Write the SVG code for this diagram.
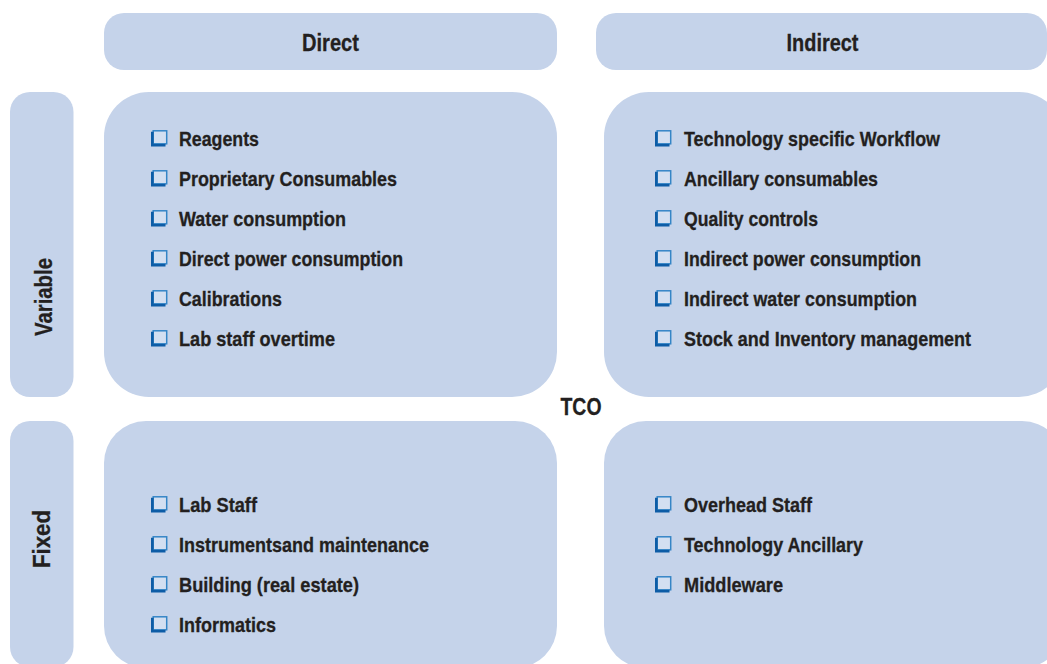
<svg xmlns="http://www.w3.org/2000/svg" xmlns:xlink="http://www.w3.org/1999/xlink" width="1047" height="664" viewBox="0 0 1047 664">
  <style>
    .panel { fill: #c5d3ea; }
    .head { font-family: "Liberation Sans", Arial, sans-serif; font-weight: bold; font-size: 24px; fill: #231f20; stroke: #231f20; stroke-width: 0.3; }
    .item { font-family: "Liberation Sans", Arial, sans-serif; font-weight: bold; font-size: 20.5px; fill: #231f20; stroke: #231f20; stroke-width: 0.3; }
  </style>
  <defs>
    <!-- shadowed checkbox bullet -->
    <g id="cb">
      <rect x="2.2" y="0.8" width="13.5" height="13" fill="#d3dff1" stroke="#3585c6" stroke-width="1.5"/>
      <path d="M1.3 1.8 V15.2 H14.5" fill="none" stroke="#0d5ca6" stroke-width="2.6"/>
    </g>
  </defs>

  <rect width="1047" height="664" fill="#ffffff"/>

  <!-- column headers -->
  <g id="hdr-direct">
    <rect class="panel" x="104" y="13" width="453" height="57" rx="20"/>
    <text class="head" x="330.5" y="50.5" text-anchor="middle" textLength="57" lengthAdjust="spacingAndGlyphs">Direct</text>
  </g>
  <g id="hdr-indirect">
    <rect class="panel" x="596" y="13" width="451" height="57" rx="20"/>
    <text class="head" x="822.5" y="50.5" text-anchor="middle" textLength="72" lengthAdjust="spacingAndGlyphs">Indirect</text>
  </g>

  <!-- row headers -->
  <g id="row-variable">
    <rect class="panel" x="10" y="92" width="63.5" height="305" rx="20"/>
    <text class="head" transform="translate(51.5,297) rotate(-90)" x="0" y="0" text-anchor="middle" textLength="78" lengthAdjust="spacingAndGlyphs">Variable</text>
  </g>
  <g id="row-fixed">
    <rect class="panel" x="10" y="421" width="63.5" height="246" rx="20"/>
    <text class="head" transform="translate(50,539) rotate(-90)" x="0" y="0" text-anchor="middle" textLength="58" lengthAdjust="spacingAndGlyphs">Fixed</text>
  </g>

  <!-- centre label -->
  <g id="tco">
    <text class="head" x="581" y="415" text-anchor="middle" textLength="41" lengthAdjust="spacingAndGlyphs">TCO</text>
  </g>

  <!-- variable / direct -->
  <g id="variable-direct">
    <rect class="panel" x="104" y="92" width="453" height="305" rx="45"/>
    <use xlink:href="#cb" x="151" y="130"/>
    <text class="item" x="179" y="146" textLength="80" lengthAdjust="spacingAndGlyphs">Reagents</text>
    <use xlink:href="#cb" x="151" y="170"/>
    <text class="item" x="179" y="186" textLength="218" lengthAdjust="spacingAndGlyphs">Proprietary Consumables</text>
    <use xlink:href="#cb" x="151" y="210"/>
    <text class="item" x="179" y="226" textLength="167" lengthAdjust="spacingAndGlyphs">Water consumption</text>
    <use xlink:href="#cb" x="151" y="250"/>
    <text class="item" x="179" y="266" textLength="224" lengthAdjust="spacingAndGlyphs">Direct power consumption</text>
    <use xlink:href="#cb" x="151" y="290"/>
    <text class="item" x="179" y="306" textLength="103" lengthAdjust="spacingAndGlyphs">Calibrations</text>
    <use xlink:href="#cb" x="151" y="330"/>
    <text class="item" x="179" y="346" textLength="156" lengthAdjust="spacingAndGlyphs">Lab staff overtime</text>
  </g>

  <!-- variable / indirect -->
  <g id="variable-indirect">
    <rect class="panel" x="604" y="92" width="460" height="305" rx="45"/>
    <use xlink:href="#cb" x="655" y="130"/>
    <text class="item" x="684" y="146" textLength="256" lengthAdjust="spacingAndGlyphs">Technology specific Workflow</text>
    <use xlink:href="#cb" x="655" y="170"/>
    <text class="item" x="684" y="186" textLength="194" lengthAdjust="spacingAndGlyphs">Ancillary consumables</text>
    <use xlink:href="#cb" x="655" y="210"/>
    <text class="item" x="684" y="226" textLength="134" lengthAdjust="spacingAndGlyphs">Quality controls</text>
    <use xlink:href="#cb" x="655" y="250"/>
    <text class="item" x="684" y="266" textLength="237" lengthAdjust="spacingAndGlyphs">Indirect power consumption</text>
    <use xlink:href="#cb" x="655" y="290"/>
    <text class="item" x="684" y="306" textLength="233" lengthAdjust="spacingAndGlyphs">Indirect water consumption</text>
    <use xlink:href="#cb" x="655" y="330"/>
    <text class="item" x="684" y="346" textLength="287" lengthAdjust="spacingAndGlyphs">Stock and Inventory management</text>
  </g>

  <!-- fixed / direct -->
  <g id="fixed-direct">
    <rect class="panel" x="104" y="421" width="453" height="247" rx="42"/>
    <use xlink:href="#cb" x="151" y="496"/>
    <text class="item" x="179" y="512" textLength="78" lengthAdjust="spacingAndGlyphs">Lab Staff</text>
    <use xlink:href="#cb" x="151" y="536"/>
    <text class="item" x="179" y="552" textLength="250" lengthAdjust="spacingAndGlyphs">Instrumentsand maintenance</text>
    <use xlink:href="#cb" x="151" y="576"/>
    <text class="item" x="179" y="592" textLength="180" lengthAdjust="spacingAndGlyphs">Building (real estate)</text>
    <use xlink:href="#cb" x="151" y="616"/>
    <text class="item" x="179" y="632" textLength="97" lengthAdjust="spacingAndGlyphs">Informatics</text>
  </g>

  <!-- fixed / indirect -->
  <g id="fixed-indirect">
    <rect class="panel" x="604" y="421" width="460" height="247" rx="42"/>
    <use xlink:href="#cb" x="655" y="496"/>
    <text class="item" x="684" y="512" textLength="128" lengthAdjust="spacingAndGlyphs">Overhead Staff</text>
    <use xlink:href="#cb" x="655" y="536"/>
    <text class="item" x="684" y="552" textLength="179" lengthAdjust="spacingAndGlyphs">Technology Ancillary</text>
    <use xlink:href="#cb" x="655" y="576"/>
    <text class="item" x="684" y="592" textLength="99" lengthAdjust="spacingAndGlyphs">Middleware</text>
  </g>

  <!-- no connectors in this layout -->
  <g id="connectors"/>
</svg>
